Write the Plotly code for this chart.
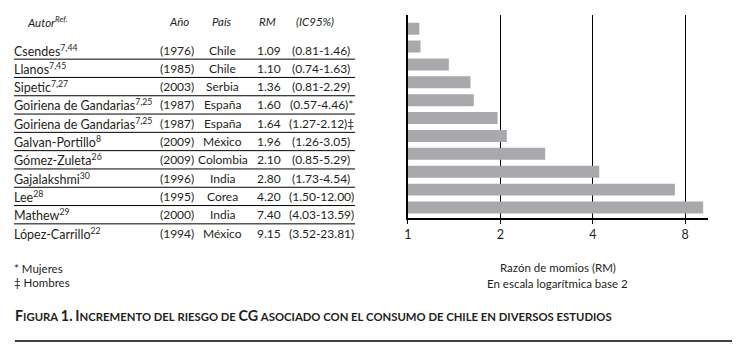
import math
import plotly.graph_objects as go

authors = ["Csendes", "Llanos", "Sipetic", "Goiriena de Gandarias", "Goiriena de Gandarias",
           "Galvan-Portillo", "Gómez-Zuleta", "Gajalakshmi", "Lee", "Mathew", "López-Carrillo"]
refs = ["7,44", "7,45", "7,27", "7,25", "7,25", "8", "26", "30", "28", "29", "22"]
years = [1976, 1985, 2003, 1987, 1987, 2009, 2009, 1996, 1995, 2000, 1994]
countries = ["Chile", "Chile", "Serbia", "España", "España", "México", "Colombia",
             "India", "Corea", "India", "México"]
rm = [1.09, 1.10, 1.36, 1.60, 1.64, 1.96, 2.10, 2.80, 4.20, 7.40, 9.15]
ci_low = [0.81, 0.74, 0.81, 0.57, 1.27, 1.26, 0.85, 1.73, 1.50, 4.03, 3.52]
ci_high = [1.46, 1.63, 2.29, 4.46, 2.12, 3.05, 5.29, 4.54, 12.00, 13.59, 23.81]
notes = ["", "", "", "*", "‡", "", "", "", "", "", ""]
x_ticks = [1, 2, 4, 8]
x_ticklabels = ["1", "2", "4", "8"]

W, H = 741, 350
FONT = "Lato"
INK = "#231f20"
BAR = "#a7a9ac"

n = len(rm)
rows = list(range(n))

fig = go.Figure()
fig.add_trace(go.Bar(
    x=rm, y=rows, orientation="h", marker=dict(color=BAR, line=dict(width=0)),
    width=0.67, xaxis="x", yaxis="y", hoverinfo="skip", showlegend=False,
))

# bar chart axes (pixel geometry)
x0, x1 = 406, 708
ytop, ybot = 15, 218
c_first, spacing = 28.7, 17.88
r_top = 0 - (c_first - ytop) / spacing
r_bot = (n - 1) + (ybot - (c_first + (n - 1) * spacing)) / spacing

fig.update_layout(
    width=W, height=H, margin=dict(l=0, r=0, t=0, b=0),
    paper_bgcolor="white", plot_bgcolor="rgba(0,0,0,0)",
    font=dict(family=FONT, size=12, color=INK),
    xaxis=dict(
        type="log", range=[0, math.log10(9.5)], domain=[x0 / W, x1 / W],
        anchor="y", tickvals=x_ticks, ticktext=x_ticklabels,
        showgrid=True, gridcolor="black", gridwidth=1,
        showline=True, linecolor="black", linewidth=1.5,
        ticks="outside", ticklen=4, tickcolor="black", tickwidth=1,
        tickfont=dict(size=12.5, color=INK), zeroline=False, fixedrange=True,
    ),
    yaxis=dict(
        range=[r_bot, r_top], domain=[1 - ybot / H, 1 - ytop / H], anchor="x",
        showticklabels=False, showgrid=False, zeroline=False,
        showline=True, linecolor="black", linewidth=1.5, ticks="", fixedrange=True,
    ),
    # table coordinate system (pixels horizontally, row units vertically)
    xaxis2=dict(range=[0, W], domain=[0, 1], anchor="y2", visible=False, fixedrange=True),
    yaxis2=dict(range=[10 + (H - 233) / 18.3, -50 / 18.3], domain=[0, 1], anchor="x2",
                visible=False, fixedrange=True),
)
# invisible trace so axes x2/y2 exist
fig.add_trace(go.Scatter(x=[0], y=[0], xaxis="x2", yaxis="y2", mode="markers",
                         marker=dict(opacity=0), hoverinfo="skip", showlegend=False))

ann = []
def t(x, y, text, anchor="center", size=12, italic=False):
    ann.append(dict(x=x, y=y, xref="x2", yref="y2", text=text, showarrow=False,
                    xanchor=anchor, yanchor="middle", borderpad=0,
                    font=dict(family=FONT, size=size, color=INK,
                              style="italic" if italic else "normal")))

col_year, col_country, col_rm, col_ci = 174, 220, 266, 319
hdr = -1.55
t(22, hdr, "Autor<sup>Ref.</sup>", "left", 11.5, True)
t(col_year + 2, hdr, "Año", size=11.5, italic=True)
t(col_country - 1, hdr, "País", size=11.5, italic=True)
t(col_rm - 1, hdr, "RM", size=11.5, italic=True)
t(col_ci - 6, hdr, "(IC95%)", size=11.5, italic=True)

for i in rows:
    t(9, i, f"{authors[i]}<sup>{refs[i]}</sup>", "left", 12.5)
    t(col_year, i, f"({years[i]})")
    t(col_country, i, countries[i])
    t(col_rm, i, f"{rm[i]:.2f}")
    t(col_ci, i, f"({ci_low[i]:.2f}-{ci_high[i]:.2f}){notes[i]}")

t(9, 11.93, "* Mujeres", "left", 11.5)
t(9, 12.7, "‡ Hombres", "left", 11.5)

shapes = []
for i in rows[:-1]:
    shapes.append(dict(type="line", xref="x2", yref="y2", x0=10, x1=353,
                       y0=i + 0.5, y1=i + 0.5, line=dict(color="black", width=1)))

# axis title
for txt, yy in [("Razón de momios (RM)", 267), ("En escala logarítmica base 2", 283)]:
    ann.append(dict(x=(x0 + x1) / 2 / W, y=1 - yy / H, xref="paper", yref="paper",
                    text=txt, showarrow=False, xanchor="center",
                    yanchor="middle", font=dict(family=FONT, size=11.5, color=INK)))

# caption in small caps
def smallcaps(s, big=14.3, small=11.3):
    out = []
    for w in s.split(" "):
        parts = []
        for ch in w:
            if ch.isupper() or ch.isdigit() or ch in ".":
                parts.append(f"<span style='font-size:{big}px'>{ch}</span>")
            else:
                parts.append(f"<span style='font-size:{small}px'>{ch.upper()}</span>")
        out.append("".join(parts))
    return " ".join(out)

caption = "Figura 1. Incremento del riesgo de CG asociado con el consumo de chile en diversos estudios"
ann.append(dict(x=10 / W, y=1 - 315 / H, xref="paper", yref="paper",
                text="<b>" + smallcaps(caption) + "</b>", showarrow=False, borderpad=0,
                xanchor="left", yanchor="middle", font=dict(family=FONT, size=11, color=INK)))
shapes.append(dict(type="line", xref="paper", yref="paper", x0=11 / W, x1=732 / W,
                   y0=1 - 341 / H, y1=1 - 341 / H, line=dict(color="black", width=1.5)))

fig.update_layout(annotations=ann, shapes=shapes)
fig.write_html("out.html", config={"displayModeBar": False},
               post_script="document.body.style.margin='0';")
